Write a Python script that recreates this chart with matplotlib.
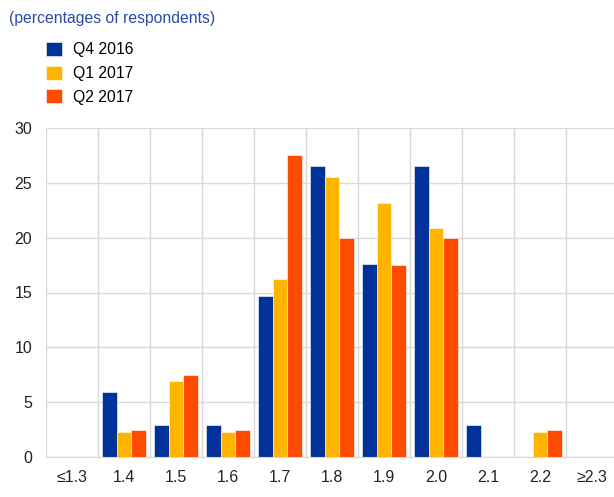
import matplotlib
matplotlib.use("Agg")
import matplotlib.pyplot as plt
import numpy as np

plt.rcParams['font.family'] = ['Liberation Sans', 'DejaVu Sans']

categories = ["≤1.3", "1.4", "1.5", "1.6", "1.7", "1.8", "1.9", "2.0", "2.1", "2.2", "≥2.3"]
series_names = ["Q4 2016", "Q1 2017", "Q2 2017"]
q4_2016 = [0, 5.9, 2.9, 2.9, 14.7, 26.5, 17.6, 26.5, 2.9, 0, 0]
q1_2017 = [0, 2.3, 6.9, 2.3, 16.2, 25.5, 23.2, 20.9, 0, 2.3, 0]
q2_2017 = [0, 2.5, 7.5, 2.5, 27.5, 20.0, 17.5, 20.0, 0, 2.5, 0]
colors = ["#003299", "#FFB400", "#FF4B00"]
yticks = [0, 5, 10, 15, 20, 25, 30]

fig = plt.figure(figsize=(6.14, 4.97), dpi=100)
W, H = 614, 497
left, right, top, bottom = 46, 618, 128, 457
ax = fig.add_axes([left / W, 1 - bottom / H, (right - left) / W, (bottom - top) / H])

x = np.arange(len(categories))
bw = 0.283
for i, (vals, c, name) in enumerate(zip([q4_2016, q1_2017, q2_2017], colors, series_names)):
    ax.bar(x + (i - 1) * bw, vals, width=bw, color=c, edgecolor="white", linewidth=0.4, label=name, zorder=3)

ax.set_xlim(-0.5, len(categories) - 0.5)
ax.set_ylim(0, 30)
ax.set_yticks(yticks)
ax.set_yticklabels([str(v) for v in yticks], fontsize=11.5, color="#222222")
ax.set_xticks(x)
ax.set_xticklabels(categories, fontsize=11.5, color="#222222")
ax.set_xticks(np.arange(len(categories) + 1) - 0.5, minor=True)
ax.tick_params(axis="both", which="both", length=0)
ax.tick_params(axis="x", pad=9)
ax.tick_params(axis="y", pad=10)
ax.grid(axis="y", color="#d9d9d9", linewidth=1, zorder=0)
ax.grid(axis="x", which="minor", color="#d9d9d9", linewidth=1, zorder=0)
ax.grid(axis="x", which="major", visible=False)
for s in ["top", "right", "left"]:
    ax.spines[s].set_visible(False)
ax.spines["bottom"].set_color("#d9d9d9")
ax.spines["bottom"].set_zorder(4)

fig.text(9 / W, 1 - 18 / H, "(percentages of respondents)", fontsize=11.3, color="#2a4aa8", va="center", ha="left")

handles, labels = ax.get_legend_handles_labels()
leg = fig.legend(handles, labels, loc="upper left", bbox_to_anchor=(46 / W, 1 - 42 / H),
                 frameon=False, fontsize=11.3, handlelength=1.0, handleheight=1.0,
                 handletextpad=0.75, labelspacing=0.52, borderaxespad=0, borderpad=0)

fig.savefig("out.png", dpi=100)
